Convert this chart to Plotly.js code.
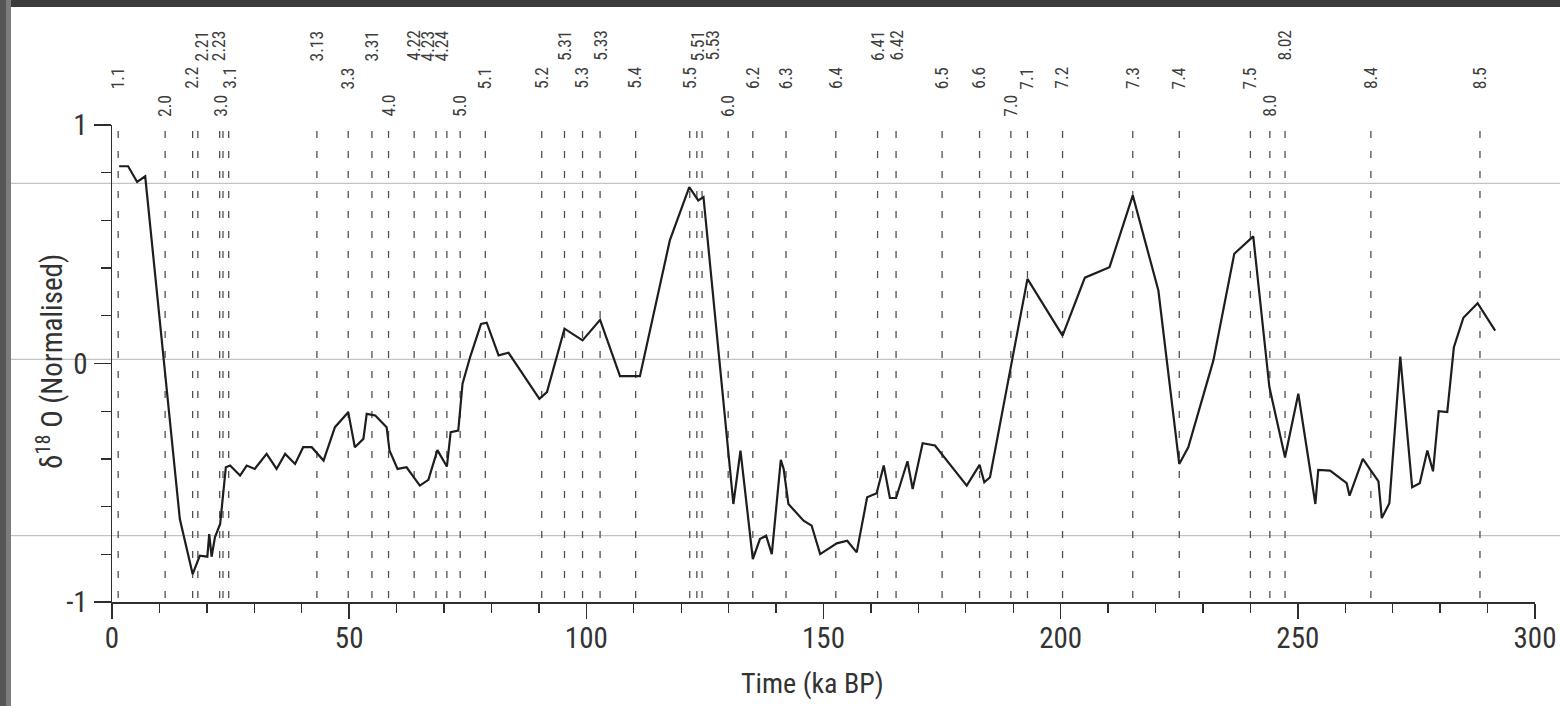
<!DOCTYPE html>
<html>
<head>
<meta charset="utf-8">
<script src="https://cdn.plot.ly/plotly-3.0.1.min.js"></script>
<style>html,body{margin:0;padding:0;background:#fff;}#chart{width:1560px;height:706px;}</style>
</head>
<body>
<div id="chart"></div>
<script>
// ---- data ----
const timeKa = [1.5,3.4,5.3,7.0,14.3,17.0,18.5,20.1,20.5,21.0,21.7,22.8,24.0,24.9,27.0,28.4,30.1,32.6,34.7,36.5,38.6,40.3,42.1,44.6,47.0,49.8,51.2,53.0,53.7,55.5,57.9,58.5,60.2,62.1,64.9,66.7,68.6,70.6,71.4,73.0,73.9,75.5,77.8,79.0,81.5,83.6,90.1,91.7,95.4,99.2,102.9,107.1,111.3,117.6,121.7,123.6,124.7,131.0,132.5,135.1,136.6,137.9,139.1,141.0,141.6,142.6,145.8,147.5,149.3,152.8,155.0,157.0,159.2,161.2,162.7,164.0,165.3,167.7,168.8,170.9,173.5,180.2,182.9,183.9,185.1,193.0,200.4,205.1,210.3,215.2,220.6,225.0,226.9,232.2,236.6,240.6,244.0,247.3,250.1,253.7,254.3,256.8,260.3,260.9,263.7,267.0,267.7,269.3,271.6,274.1,275.7,277.3,278.5,279.7,281.5,282.9,284.9,287.9,291.6];
const d18O = [0.827,0.827,0.761,0.785,-0.652,-0.883,-0.806,-0.81,-0.715,-0.81,-0.729,-0.673,-0.435,-0.428,-0.47,-0.428,-0.442,-0.379,-0.442,-0.379,-0.421,-0.351,-0.351,-0.407,-0.267,-0.204,-0.351,-0.316,-0.211,-0.218,-0.267,-0.365,-0.442,-0.435,-0.512,-0.488,-0.363,-0.432,-0.288,-0.281,-0.085,0.027,0.166,0.171,0.034,0.045,-0.148,-0.12,0.146,0.097,0.183,-0.053,-0.053,0.516,0.74,0.684,0.698,-0.589,-0.365,-0.82,-0.736,-0.722,-0.799,-0.404,-0.442,-0.589,-0.659,-0.68,-0.799,-0.754,-0.743,-0.792,-0.561,-0.544,-0.428,-0.564,-0.564,-0.41,-0.526,-0.334,-0.344,-0.512,-0.425,-0.498,-0.477,0.355,0.117,0.36,0.404,0.705,0.306,-0.421,-0.351,0.013,0.46,0.533,-0.099,-0.393,-0.127,-0.589,-0.446,-0.449,-0.502,-0.554,-0.4,-0.494,-0.648,-0.586,0.029,-0.519,-0.502,-0.365,-0.452,-0.2,-0.204,0.068,0.192,0.253,0.138];

const eventLabels = ['1.1','2.0','2.2','2.21','2.23','3.0','3.1','3.13','3.3','3.31','4.0','4.22','4.23','4.24','5.0','5.1','5.2','5.31','5.3','5.33','5.4','5.5','5.51','5.53','6.0','6.2','6.3','6.4','6.41','6.42','6.5','6.6','7.0','7.1','7.2','7.3','7.4','7.5','8.0','8.02','8.4','8.5'];
const eventAges = [1.3,11.2,17.0,18.1,22.7,23.4,24.6,43.2,49.8,54.8,58.3,63.7,68.3,70.6,73.4,78.7,90.6,95.4,99.2,102.9,110.4,121.8,123.3,124.4,129.9,135.1,142.1,152.6,161.4,165.3,175.0,182.9,189.5,193.0,200.4,215.2,225.0,240.0,244.1,247.3,265.4,288.4];

const xTickVals = [0,50,100,150,200,250,300];
const yTickVals = [-1,0,1];
const yTickText = ['-1','0','1'];
const xTitle = 'Time (ka BP)';
const yTitle = 'δ<sup>18</sup> O (Normalised)';

// ---- style ----
const FONT = '"Liberation Sans Narrow", "Arial Narrow", "Roboto Condensed", "Liberation Sans", sans-serif';
const INK = '#2e2e2e';
// label crowding offsets (px), purely presentational
const labelShift = {'2.21':4,'2.23':-1,'3.0':-2,'3.1':1,'4.22':-1,'4.23':-8,'4.24':-5,'5.51':1,'5.53':10};
// label rows: x.0 lowest, x.y middle, x.yz top
function rowOf(lbl){
  const dec = lbl.split('.')[1];
  if (dec.length === 2) return 1.132;
  if (dec === '0') return 1.015;
  return 1.073;
}

// dashed event lines
const dx = [], dy = [];
eventAges.forEach(a => { dx.push(a, a, null); dy.push(0.975, -1, null); });

const traces = [
  {x: dx, y: dy, type: 'scatter', mode: 'lines', hoverinfo: 'skip',
   line: {color: '#505050', width: 1.3, dash: '7px,13px'}, showlegend: false},
  {x: timeKa, y: d18O, type: 'scatter', mode: 'lines',
   line: {color: '#1e1e1e', width: 2.2}, showlegend: false}
];

const annotations = eventLabels.map((lbl, i) => ({
  x: eventAges[i], xref: 'x', y: rowOf(lbl), yref: 'paper',
  text: lbl, showarrow: false, textangle: -90,
  xanchor: 'center', yanchor: 'bottom', xshift: labelShift[lbl] || 0,
  borderpad: 0,
  font: {family: FONT, size: 17.5, color: '#3e3e3e'}
}));

// plot area: x 112..1535 px, y 125..602 px
const PX = v => (v - 112) / 1423;
const PY = v => (602 - v) / 477;

annotations.push(
  {text: xTitle, xref: 'paper', yref: 'paper', x: PX(812), y: PY(683), xanchor: 'center', yanchor: 'middle', showarrow: false,
   font: {family: FONT, size: 28, color: '#333'}},
  {text: yTitle, xref: 'paper', yref: 'paper', x: PX(50), y: PY(362), xanchor: 'center', yanchor: 'middle', showarrow: false, textangle: -90,
   font: {family: FONT, size: 29, color: '#333'}}
);

const shapes = [
  // scan artefacts: faint horizontal lines
  ...[183.3, 359.3, 535.7].map(p => ({type:'line', xref:'paper', yref:'paper', x0:PX(0), x1:PX(1560), y0:PY(p), y1:PY(p), layer:'below', line:{color:'#b4b4b4', width:1}})),
  // dark page border (top and left)
  {type:'rect', xref:'paper', yref:'paper', x0:PX(0), x1:PX(1560), y0:PY(0), y1:PY(7), fillcolor:'#3c3c3c', line:{width:0}, layer:'above'},
  {type:'rect', xref:'paper', yref:'paper', x0:PX(0), x1:PX(6), y0:PY(0), y1:PY(706), fillcolor:'#555555', line:{width:0}, layer:'above'},
  {type:'rect', xref:'paper', yref:'paper', x0:PX(6), x1:PX(11), y0:PY(0), y1:PY(706), fillcolor:'#7c7c7c', line:{width:0}, layer:'above'}
];

const layout = {
  width: 1560, height: 706, autosize: false,
  margin: {l: 112, r: 25, t: 125, b: 104, pad: 0},
  paper_bgcolor: '#ffffff', plot_bgcolor: 'rgba(0,0,0,0)',
  showlegend: false,
  font: {family: FONT, color: INK},
  xaxis: {
    range: [0, 300], tickmode: 'array', tickvals: xTickVals,
    showline: true, linecolor: INK, linewidth: 1.5, mirror: false,
    ticks: 'outside', ticklen: 15, tickwidth: 1.5, tickcolor: INK,
    ticklabelstandoff: -5,
    showgrid: false, zeroline: false,
    tickfont: {family: FONT, size: 29, color: '#333'},
    minor: {tickmode: 'linear', tick0: 0, dtick: 10, ticks: 'outside', ticklen: 9, tickwidth: 1.3, tickcolor: INK, showgrid: false}
  },
  yaxis: {
    range: [-1, 1], tickmode: 'array', tickvals: yTickVals, ticktext: yTickText,
    showline: true, linecolor: INK, linewidth: 1.5,
    ticks: 'outside', ticklen: 17, tickwidth: 1.5, tickcolor: INK,
    showgrid: false, zeroline: false,
    tickfont: {family: FONT, size: 29, color: '#333'},
    minor: {tickmode: 'linear', tick0: 0, dtick: 0.2, ticks: 'outside', ticklen: 10, tickwidth: 1.3, tickcolor: INK, showgrid: false}
  },
  annotations: annotations,
  shapes: shapes
};

Plotly.newPlot('chart', traces, layout, {staticPlot: true, displayModeBar: false});
</script>
</body>
</html>
